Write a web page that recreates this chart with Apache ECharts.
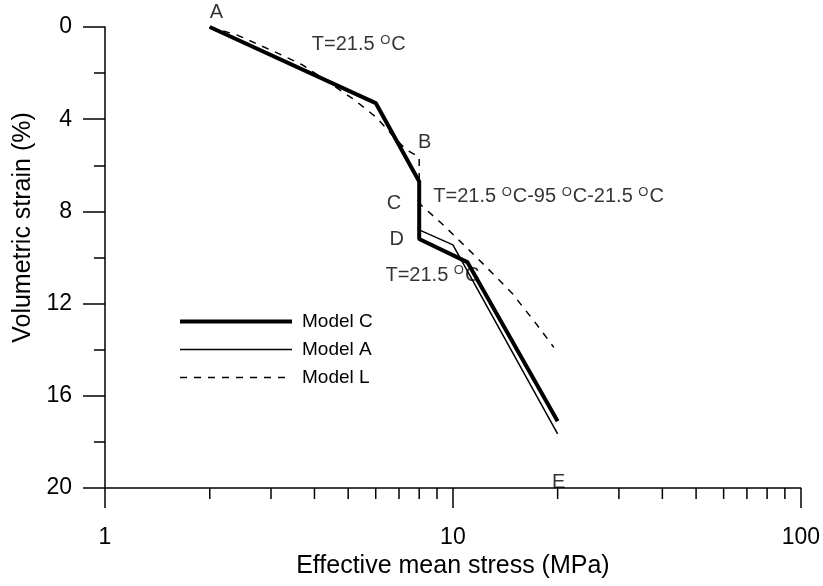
<!DOCTYPE html>
<html>
<head>
<meta charset="utf-8">
<script src="https://cdn.jsdelivr.net/npm/echarts@6/dist/echarts.min.js"></script>
<style>html,body{margin:0;padding:0;background:#fff;}#c{width:823px;height:586px;}</style>
</head>
<body>
<div id="c"></div>
<script>
// Effective mean stress (MPa) and volumetric strain (%) per model
const stressC = [2, 6, 8, 8, 11, 20];
const strainC = [0, 3.3, 6.7, 9.2, 10.2, 17.1];
const stressA = [2, 6, 8, 8, 10, 20];
const strainA = [0, 3.3, 6.7, 8.8, 9.45, 17.65];
const stressL = [2, 2.4, 3.1, 3.7, 4.1, 5.2, 6, 7.3, 8, 8, 9.4, 11.8, 14.8, 17.4, 19.5];
const strainL = [0, 0.35, 1.1, 1.65, 2.1, 3.15, 3.9, 5.3, 5.65, 7.65, 8.6, 10.05, 11.55, 12.9, 13.9];
const seriesNames = ['Model C', 'Model A', 'Model L'];
// minor tick positions on the log x axis
const xMinorTicks = [2, 3, 4, 5, 6, 7, 8, 9, 20, 30, 40, 50, 60, 70, 80, 90];
// annotation texts: [stress, strain, text, align]
const annotations = [
  [2.09, -0.65, 'A', 'center'],
  [3.93, 0.78, 'T=21.5 {s|O}C', 'left'],
  [8.29, 5.03, 'B', 'center'],
  [6.77, 7.64, 'C', 'center'],
  [6.90, 9.24, 'D', 'center'],
  [8.78, 7.36, 'T=21.5 {s|O}C-95 {s|O}C-21.5 {s|O}C', 'left'],
  [6.40, 10.76, 'T=21.5 {s|O}C', 'left'],
  [20.13, 19.78, 'E', 'center']
];

const zip = (xs, ys) => xs.map((x, i) => [x, ys[i]]);
const font = 'Liberation Sans, Arial, sans-serif';

const chart = echarts.init(document.getElementById('c'), null, {renderer: 'canvas'});
chart.setOption({
  backgroundColor: '#fff',
  animation: false,
  textStyle: {fontFamily: font, color: '#000'},
  grid: {left: 105, right: 17, top: 27, bottom: 98},
  legend: {
    data: seriesNames,
    orient: 'vertical',
    left: 178, top: 312, padding: 0,
    itemWidth: 112, itemHeight: 14, itemGap: 9,
    lineStyle: {width: 'inherit'},
    itemStyle: {opacity: 0, borderWidth: 0},
    textStyle: {fontSize: 19, color: '#000', fontFamily: font, padding: [0, 0, 0, 5]},
    selectedMode: false
  },
  xAxis: {
    type: 'log', logBase: 10, min: 1, max: 100,
    name: 'Effective mean stress (MPa)', nameLocation: 'middle', nameGap: 66,
    nameTextStyle: {fontSize: 25, color: '#000', fontFamily: font},
    axisLine: {show: true, onZero: false, lineStyle: {color: '#000', width: 1.5}},
    axisTick: {show: true, length: 20, lineStyle: {color: '#000', width: 1.5}},
    axisLabel: {fontSize: 23, color: '#000', margin: 38, fontFamily: font},
    splitLine: {show: false}
  },
  yAxis: [{
    type: 'value', inverse: true, min: 0, max: 20, interval: 4, position: 'left',
    name: 'Volumetric strain (%)', nameLocation: 'middle', nameGap: 68,
    nameTextStyle: {fontSize: 25, color: '#000', fontFamily: font, padding: [0, 0, 0, 60]},
    axisLine: {show: true, lineStyle: {color: '#000', width: 1.5}},
    axisTick: {show: true, length: 22, lineStyle: {color: '#000', width: 1.5}},
    axisLabel: {fontSize: 23, color: '#000', margin: 33, fontFamily: font},
    splitLine: {show: false}
  }, {
    type: 'value', inverse: true, min: 0, max: 20, interval: 2, position: 'left', offset: 0,
    axisLine: {show: false},
    axisTick: {show: true, length: 11, lineStyle: {color: '#000', width: 1.5}},
    axisLabel: {show: false},
    splitLine: {show: false}
  }],
  series: [
    {
      name: 'Model L', type: 'line', data: zip(stressL, strainL), symbol: 'none', z: 2,
      lineStyle: {color: '#000', width: 1.5, type: [7, 7]}, itemStyle: {color: '#000'}
    },
    {
      name: 'Model A', type: 'line', data: zip(stressA, strainA), symbol: 'none', z: 3,
      lineStyle: {color: '#000', width: 1.5}, itemStyle: {color: '#000'}
    },
    {
      name: 'Model C', type: 'line', data: zip(stressC, strainC), symbol: 'none', z: 4,
      lineStyle: {color: '#000', width: 4}, itemStyle: {color: '#000'}
    },
    {
      name: 'minor', type: 'custom', clip: false, silent: true,
      data: xMinorTicks.map(v => [v, 20]),
      renderItem: function (params, api) {
        const p = api.coord([api.value(0), api.value(1)]);
        return {type: 'line', shape: {x1: p[0], y1: p[1], x2: p[0], y2: p[1] + 11},
          style: {stroke: '#000', lineWidth: 1.5}};
      }
    },
    {
      name: 'notes', type: 'scatter', clip: false, silent: true, symbolSize: 0,
      data: annotations.map(a => ({
        value: [a[0], a[1]],
        label: {
          show: true, position: 'inside', formatter: a[2], align: a[3], verticalAlign: 'middle',
          fontSize: 20, color: '#000', fontFamily: font,
          rich: {s: {fontSize: 13, color: '#000', fontFamily: font, padding: [0, 1, 9, 0]}}
        }
      }))
    }
  ]
});
</script>
</body>
</html>
